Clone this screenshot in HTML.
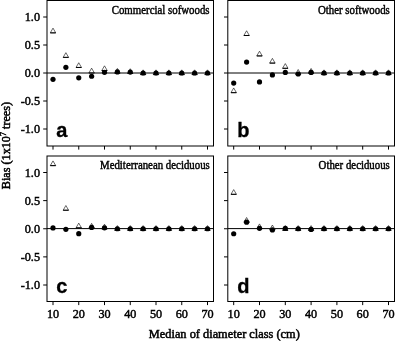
<!DOCTYPE html><html><head><meta charset="utf-8"><style>html,body{margin:0;padding:0;background:#fff;}svg{display:block;}.tl{font-family:"Liberation Serif",serif;font-size:12.2px;fill:#000;stroke:#000;stroke-width:0.45px;}.tt{font-family:"Liberation Serif",serif;font-size:12.2px;fill:#000;stroke:#000;stroke-width:0.45px;}.pl{font-family:"Liberation Sans",sans-serif;font-size:20px;font-weight:bold;fill:#000;stroke:#000;stroke-width:0.3px;}.ax{font-family:"Liberation Serif",serif;font-size:12.2px;fill:#000;stroke:#000;stroke-width:0.5px;}</style></head><body>
<svg width="395" height="341" viewBox="0 0 395 341">
<rect width="395" height="341" fill="#fff"/>
<line x1="47.0" y1="73.0" x2="213.5" y2="73.0" stroke="#000" stroke-width="1"/>
<rect x="47.0" y="0.5" width="166.50" height="145.50" fill="none" stroke="#000" stroke-width="1"/>
<line x1="43.20" y1="129.00" x2="47.0" y2="129.00" stroke="#000" stroke-width="1"/>
<text class="tl" x="40" y="133.10" text-anchor="end">-1.0</text>
<line x1="43.20" y1="101.00" x2="47.0" y2="101.00" stroke="#000" stroke-width="1"/>
<text class="tl" x="40" y="105.10" text-anchor="end">-0.5</text>
<line x1="43.20" y1="73.00" x2="47.0" y2="73.00" stroke="#000" stroke-width="1"/>
<text class="tl" x="40" y="77.10" text-anchor="end">0.0</text>
<line x1="43.20" y1="45.00" x2="47.0" y2="45.00" stroke="#000" stroke-width="1"/>
<text class="tl" x="40" y="49.10" text-anchor="end">0.5</text>
<line x1="43.20" y1="17.00" x2="47.0" y2="17.00" stroke="#000" stroke-width="1"/>
<text class="tl" x="40" y="21.10" text-anchor="end">1.0</text>
<line x1="53.00" y1="146.0" x2="53.00" y2="149.60" stroke="#000" stroke-width="1"/>
<line x1="78.75" y1="146.0" x2="78.75" y2="149.60" stroke="#000" stroke-width="1"/>
<line x1="104.50" y1="146.0" x2="104.50" y2="149.60" stroke="#000" stroke-width="1"/>
<line x1="130.25" y1="146.0" x2="130.25" y2="149.60" stroke="#000" stroke-width="1"/>
<line x1="156.00" y1="146.0" x2="156.00" y2="149.60" stroke="#000" stroke-width="1"/>
<line x1="181.75" y1="146.0" x2="181.75" y2="149.60" stroke="#000" stroke-width="1"/>
<line x1="207.50" y1="146.0" x2="207.50" y2="149.60" stroke="#000" stroke-width="1"/>
<polygon points="53.00,28.13 55.73,32.86 50.27,32.86" fill="#fff" stroke="#000" stroke-width="0.6"/>
<line x1="50.27" y1="32.86" x2="55.73" y2="32.86" stroke="#000" stroke-width="1.0"/>
<polygon points="65.88,52.66 68.60,57.38 63.15,57.38" fill="#fff" stroke="#000" stroke-width="0.6"/>
<line x1="63.15" y1="57.38" x2="68.60" y2="57.38" stroke="#000" stroke-width="1.0"/>
<polygon points="78.75,62.74 81.48,67.46 76.02,67.46" fill="#fff" stroke="#000" stroke-width="0.6"/>
<line x1="76.02" y1="67.46" x2="81.48" y2="67.46" stroke="#000" stroke-width="1.0"/>
<polygon points="91.62,68.17 94.35,72.89 88.90,72.89" fill="#fff" stroke="#000" stroke-width="0.6"/>
<line x1="88.90" y1="72.89" x2="94.35" y2="72.89" stroke="#000" stroke-width="1.0"/>
<polygon points="104.50,65.82 107.23,70.54 101.77,70.54" fill="#fff" stroke="#000" stroke-width="0.6"/>
<line x1="101.77" y1="70.54" x2="107.23" y2="70.54" stroke="#000" stroke-width="1.0"/>
<polygon points="117.38,68.45 120.10,73.17 114.65,73.17" fill="#fff" stroke="#000" stroke-width="0.6"/>
<line x1="114.65" y1="73.17" x2="120.10" y2="73.17" stroke="#000" stroke-width="1.0"/>
<polygon points="130.25,68.73 132.98,73.45 127.52,73.45" fill="#fff" stroke="#000" stroke-width="0.6"/>
<line x1="127.52" y1="73.45" x2="132.98" y2="73.45" stroke="#000" stroke-width="1.0"/>
<polygon points="143.12,69.85 145.85,74.58 140.40,74.58" fill="#fff" stroke="#000" stroke-width="0.6"/>
<line x1="140.40" y1="74.58" x2="145.85" y2="74.58" stroke="#000" stroke-width="1.0"/>
<polygon points="156.00,69.85 158.73,74.58 153.27,74.58" fill="#fff" stroke="#000" stroke-width="0.6"/>
<line x1="153.27" y1="74.58" x2="158.73" y2="74.58" stroke="#000" stroke-width="1.0"/>
<polygon points="168.88,69.85 171.60,74.58 166.15,74.58" fill="#fff" stroke="#000" stroke-width="0.6"/>
<line x1="166.15" y1="74.58" x2="171.60" y2="74.58" stroke="#000" stroke-width="1.0"/>
<polygon points="181.75,69.85 184.48,74.58 179.02,74.58" fill="#fff" stroke="#000" stroke-width="0.6"/>
<line x1="179.02" y1="74.58" x2="184.48" y2="74.58" stroke="#000" stroke-width="1.0"/>
<polygon points="194.62,69.85 197.35,74.58 191.90,74.58" fill="#fff" stroke="#000" stroke-width="0.6"/>
<line x1="191.90" y1="74.58" x2="197.35" y2="74.58" stroke="#000" stroke-width="1.0"/>
<polygon points="207.50,69.85 210.23,74.58 204.77,74.58" fill="#fff" stroke="#000" stroke-width="0.6"/>
<line x1="204.77" y1="74.58" x2="210.23" y2="74.58" stroke="#000" stroke-width="1.0"/>
<circle cx="53.00" cy="79.33" r="2.6" fill="#000"/>
<circle cx="65.88" cy="67.34" r="2.6" fill="#000"/>
<circle cx="78.75" cy="77.82" r="2.6" fill="#000"/>
<circle cx="91.62" cy="76.25" r="2.6" fill="#000"/>
<circle cx="104.50" cy="72.33" r="2.6" fill="#000"/>
<circle cx="117.38" cy="71.94" r="2.6" fill="#000"/>
<circle cx="130.25" cy="72.10" r="2.6" fill="#000"/>
<circle cx="143.12" cy="73.00" r="2.6" fill="#000"/>
<circle cx="156.00" cy="73.00" r="2.6" fill="#000"/>
<circle cx="168.88" cy="73.00" r="2.6" fill="#000"/>
<circle cx="181.75" cy="73.00" r="2.6" fill="#000"/>
<circle cx="194.62" cy="73.00" r="2.6" fill="#000"/>
<circle cx="207.50" cy="73.00" r="2.6" fill="#000"/>
<text class="tt" x="111.70" y="13.70" textLength="97.90" lengthAdjust="spacingAndGlyphs">Commercial sofwoods</text>
<text class="pl" x="56.30" y="136.70">a</text>
<line x1="227.8" y1="73.0" x2="394.5" y2="73.0" stroke="#000" stroke-width="1"/>
<rect x="227.8" y="0.5" width="166.70" height="145.50" fill="none" stroke="#000" stroke-width="1"/>
<line x1="224.00" y1="129.00" x2="227.8" y2="129.00" stroke="#000" stroke-width="1"/>
<line x1="224.00" y1="101.00" x2="227.8" y2="101.00" stroke="#000" stroke-width="1"/>
<line x1="224.00" y1="73.00" x2="227.8" y2="73.00" stroke="#000" stroke-width="1"/>
<line x1="224.00" y1="45.00" x2="227.8" y2="45.00" stroke="#000" stroke-width="1"/>
<line x1="224.00" y1="17.00" x2="227.8" y2="17.00" stroke="#000" stroke-width="1"/>
<line x1="233.70" y1="146.0" x2="233.70" y2="149.60" stroke="#000" stroke-width="1"/>
<line x1="259.50" y1="146.0" x2="259.50" y2="149.60" stroke="#000" stroke-width="1"/>
<line x1="285.30" y1="146.0" x2="285.30" y2="149.60" stroke="#000" stroke-width="1"/>
<line x1="311.10" y1="146.0" x2="311.10" y2="149.60" stroke="#000" stroke-width="1"/>
<line x1="336.90" y1="146.0" x2="336.90" y2="149.60" stroke="#000" stroke-width="1"/>
<line x1="362.70" y1="146.0" x2="362.70" y2="149.60" stroke="#000" stroke-width="1"/>
<line x1="388.50" y1="146.0" x2="388.50" y2="149.60" stroke="#000" stroke-width="1"/>
<polygon points="233.70,87.94 236.43,92.66 230.97,92.66" fill="#fff" stroke="#000" stroke-width="0.6"/>
<line x1="230.97" y1="92.66" x2="236.43" y2="92.66" stroke="#000" stroke-width="1.0"/>
<polygon points="246.60,30.76 249.33,35.49 243.87,35.49" fill="#fff" stroke="#000" stroke-width="0.6"/>
<line x1="243.87" y1="35.49" x2="249.33" y2="35.49" stroke="#000" stroke-width="1.0"/>
<polygon points="259.50,51.20 262.23,55.93 256.77,55.93" fill="#fff" stroke="#000" stroke-width="0.6"/>
<line x1="256.77" y1="55.93" x2="262.23" y2="55.93" stroke="#000" stroke-width="1.0"/>
<polygon points="272.40,58.37 275.13,63.10 269.67,63.10" fill="#fff" stroke="#000" stroke-width="0.6"/>
<line x1="269.67" y1="63.10" x2="275.13" y2="63.10" stroke="#000" stroke-width="1.0"/>
<polygon points="285.30,63.58 288.03,68.30 282.57,68.30" fill="#fff" stroke="#000" stroke-width="0.6"/>
<line x1="282.57" y1="68.30" x2="288.03" y2="68.30" stroke="#000" stroke-width="1.0"/>
<polygon points="298.20,69.51 300.93,74.24 295.47,74.24" fill="#fff" stroke="#000" stroke-width="0.6"/>
<line x1="295.47" y1="74.24" x2="300.93" y2="74.24" stroke="#000" stroke-width="1.0"/>
<polygon points="311.10,68.45 313.83,73.17 308.37,73.17" fill="#fff" stroke="#000" stroke-width="0.6"/>
<line x1="308.37" y1="73.17" x2="313.83" y2="73.17" stroke="#000" stroke-width="1.0"/>
<polygon points="324.00,69.85 326.73,74.58 321.27,74.58" fill="#fff" stroke="#000" stroke-width="0.6"/>
<line x1="321.27" y1="74.58" x2="326.73" y2="74.58" stroke="#000" stroke-width="1.0"/>
<polygon points="336.90,69.85 339.63,74.58 334.17,74.58" fill="#fff" stroke="#000" stroke-width="0.6"/>
<line x1="334.17" y1="74.58" x2="339.63" y2="74.58" stroke="#000" stroke-width="1.0"/>
<polygon points="349.80,69.85 352.53,74.58 347.07,74.58" fill="#fff" stroke="#000" stroke-width="0.6"/>
<line x1="347.07" y1="74.58" x2="352.53" y2="74.58" stroke="#000" stroke-width="1.0"/>
<polygon points="362.70,69.85 365.43,74.58 359.97,74.58" fill="#fff" stroke="#000" stroke-width="0.6"/>
<line x1="359.97" y1="74.58" x2="365.43" y2="74.58" stroke="#000" stroke-width="1.0"/>
<polygon points="375.60,69.85 378.33,74.58 372.87,74.58" fill="#fff" stroke="#000" stroke-width="0.6"/>
<line x1="372.87" y1="74.58" x2="378.33" y2="74.58" stroke="#000" stroke-width="1.0"/>
<polygon points="388.50,69.85 391.23,74.58 385.77,74.58" fill="#fff" stroke="#000" stroke-width="0.6"/>
<line x1="385.77" y1="74.58" x2="391.23" y2="74.58" stroke="#000" stroke-width="1.0"/>
<circle cx="233.70" cy="83.08" r="2.6" fill="#000"/>
<circle cx="246.60" cy="62.08" r="2.6" fill="#000"/>
<circle cx="259.50" cy="81.96" r="2.6" fill="#000"/>
<circle cx="272.40" cy="74.96" r="2.6" fill="#000"/>
<circle cx="285.30" cy="72.44" r="2.6" fill="#000"/>
<circle cx="298.20" cy="74.01" r="2.6" fill="#000"/>
<circle cx="311.10" cy="72.44" r="2.6" fill="#000"/>
<circle cx="324.00" cy="73.00" r="2.6" fill="#000"/>
<circle cx="336.90" cy="73.00" r="2.6" fill="#000"/>
<circle cx="349.80" cy="73.00" r="2.6" fill="#000"/>
<circle cx="362.70" cy="73.00" r="2.6" fill="#000"/>
<circle cx="375.60" cy="73.00" r="2.6" fill="#000"/>
<circle cx="388.50" cy="73.00" r="2.6" fill="#000"/>
<text class="tt" x="317.90" y="13.70" textLength="71.90" lengthAdjust="spacingAndGlyphs">Other softwoods</text>
<text class="pl" x="237.20" y="136.70">b</text>
<line x1="47.0" y1="228.6" x2="213.5" y2="228.6" stroke="#000" stroke-width="1"/>
<rect x="47.0" y="156.0" width="166.50" height="145.50" fill="none" stroke="#000" stroke-width="1"/>
<line x1="43.20" y1="285.00" x2="47.0" y2="285.00" stroke="#000" stroke-width="1"/>
<text class="tl" x="40" y="289.10" text-anchor="end">-1.0</text>
<line x1="43.20" y1="256.88" x2="47.0" y2="256.88" stroke="#000" stroke-width="1"/>
<text class="tl" x="40" y="260.98" text-anchor="end">-0.5</text>
<line x1="43.20" y1="228.75" x2="47.0" y2="228.75" stroke="#000" stroke-width="1"/>
<text class="tl" x="40" y="232.85" text-anchor="end">0.0</text>
<line x1="43.20" y1="200.62" x2="47.0" y2="200.62" stroke="#000" stroke-width="1"/>
<text class="tl" x="40" y="204.72" text-anchor="end">0.5</text>
<line x1="43.20" y1="172.50" x2="47.0" y2="172.50" stroke="#000" stroke-width="1"/>
<text class="tl" x="40" y="176.60" text-anchor="end">1.0</text>
<line x1="53.00" y1="301.5" x2="53.00" y2="305.10" stroke="#000" stroke-width="1"/>
<text class="tl" x="53.00" y="317.6" text-anchor="middle">10</text>
<line x1="78.75" y1="301.5" x2="78.75" y2="305.10" stroke="#000" stroke-width="1"/>
<text class="tl" x="78.75" y="317.6" text-anchor="middle">20</text>
<line x1="104.50" y1="301.5" x2="104.50" y2="305.10" stroke="#000" stroke-width="1"/>
<text class="tl" x="104.50" y="317.6" text-anchor="middle">30</text>
<line x1="130.25" y1="301.5" x2="130.25" y2="305.10" stroke="#000" stroke-width="1"/>
<text class="tl" x="130.25" y="317.6" text-anchor="middle">40</text>
<line x1="156.00" y1="301.5" x2="156.00" y2="305.10" stroke="#000" stroke-width="1"/>
<text class="tl" x="156.00" y="317.6" text-anchor="middle">50</text>
<line x1="181.75" y1="301.5" x2="181.75" y2="305.10" stroke="#000" stroke-width="1"/>
<text class="tl" x="181.75" y="317.6" text-anchor="middle">60</text>
<line x1="207.50" y1="301.5" x2="207.50" y2="305.10" stroke="#000" stroke-width="1"/>
<text class="tl" x="207.50" y="317.6" text-anchor="middle">70</text>
<polygon points="53.00,160.91 55.73,165.64 50.27,165.64" fill="#fff" stroke="#000" stroke-width="0.6"/>
<line x1="50.27" y1="165.64" x2="55.73" y2="165.64" stroke="#000" stroke-width="1.0"/>
<polygon points="65.88,205.52 68.60,210.24 63.15,210.24" fill="#fff" stroke="#000" stroke-width="0.6"/>
<line x1="63.15" y1="210.24" x2="68.60" y2="210.24" stroke="#000" stroke-width="1.0"/>
<polygon points="78.75,223.12 81.48,227.85 76.02,227.85" fill="#fff" stroke="#000" stroke-width="0.6"/>
<line x1="76.02" y1="227.85" x2="81.48" y2="227.85" stroke="#000" stroke-width="1.0"/>
<polygon points="91.62,223.35 94.35,228.07 88.90,228.07" fill="#fff" stroke="#000" stroke-width="0.6"/>
<line x1="88.90" y1="228.07" x2="94.35" y2="228.07" stroke="#000" stroke-width="1.0"/>
<polygon points="104.50,224.19 107.23,228.92 101.77,228.92" fill="#fff" stroke="#000" stroke-width="0.6"/>
<line x1="101.77" y1="228.92" x2="107.23" y2="228.92" stroke="#000" stroke-width="1.0"/>
<polygon points="117.38,225.60 120.10,230.32 114.65,230.32" fill="#fff" stroke="#000" stroke-width="0.6"/>
<line x1="114.65" y1="230.32" x2="120.10" y2="230.32" stroke="#000" stroke-width="1.0"/>
<polygon points="130.25,225.60 132.98,230.32 127.52,230.32" fill="#fff" stroke="#000" stroke-width="0.6"/>
<line x1="127.52" y1="230.32" x2="132.98" y2="230.32" stroke="#000" stroke-width="1.0"/>
<polygon points="143.12,225.60 145.85,230.32 140.40,230.32" fill="#fff" stroke="#000" stroke-width="0.6"/>
<line x1="140.40" y1="230.32" x2="145.85" y2="230.32" stroke="#000" stroke-width="1.0"/>
<polygon points="156.00,225.60 158.73,230.32 153.27,230.32" fill="#fff" stroke="#000" stroke-width="0.6"/>
<line x1="153.27" y1="230.32" x2="158.73" y2="230.32" stroke="#000" stroke-width="1.0"/>
<polygon points="168.88,225.60 171.60,230.32 166.15,230.32" fill="#fff" stroke="#000" stroke-width="0.6"/>
<line x1="166.15" y1="230.32" x2="171.60" y2="230.32" stroke="#000" stroke-width="1.0"/>
<polygon points="181.75,225.60 184.48,230.32 179.02,230.32" fill="#fff" stroke="#000" stroke-width="0.6"/>
<line x1="179.02" y1="230.32" x2="184.48" y2="230.32" stroke="#000" stroke-width="1.0"/>
<polygon points="194.62,225.60 197.35,230.32 191.90,230.32" fill="#fff" stroke="#000" stroke-width="0.6"/>
<line x1="191.90" y1="230.32" x2="197.35" y2="230.32" stroke="#000" stroke-width="1.0"/>
<polygon points="207.50,225.60 210.23,230.32 204.77,230.32" fill="#fff" stroke="#000" stroke-width="0.6"/>
<line x1="204.77" y1="230.32" x2="210.23" y2="230.32" stroke="#000" stroke-width="1.0"/>
<circle cx="53.00" cy="227.96" r="2.6" fill="#000"/>
<circle cx="65.88" cy="229.31" r="2.6" fill="#000"/>
<circle cx="78.75" cy="233.64" r="2.6" fill="#000"/>
<circle cx="91.62" cy="227.46" r="2.6" fill="#000"/>
<circle cx="104.50" cy="227.85" r="2.6" fill="#000"/>
<circle cx="117.38" cy="228.75" r="2.6" fill="#000"/>
<circle cx="130.25" cy="228.75" r="2.6" fill="#000"/>
<circle cx="143.12" cy="228.75" r="2.6" fill="#000"/>
<circle cx="156.00" cy="228.75" r="2.6" fill="#000"/>
<circle cx="168.88" cy="228.75" r="2.6" fill="#000"/>
<circle cx="181.75" cy="228.75" r="2.6" fill="#000"/>
<circle cx="194.62" cy="228.75" r="2.6" fill="#000"/>
<circle cx="207.50" cy="228.75" r="2.6" fill="#000"/>
<text class="tt" x="100.00" y="169.10" textLength="109.80" lengthAdjust="spacingAndGlyphs">Mediterranean deciduous</text>
<text class="pl" x="56.30" y="293.00">c</text>
<line x1="227.8" y1="228.6" x2="394.5" y2="228.6" stroke="#000" stroke-width="1"/>
<rect x="227.8" y="156.0" width="166.70" height="145.50" fill="none" stroke="#000" stroke-width="1"/>
<line x1="224.00" y1="285.00" x2="227.8" y2="285.00" stroke="#000" stroke-width="1"/>
<line x1="224.00" y1="256.88" x2="227.8" y2="256.88" stroke="#000" stroke-width="1"/>
<line x1="224.00" y1="228.75" x2="227.8" y2="228.75" stroke="#000" stroke-width="1"/>
<line x1="224.00" y1="200.62" x2="227.8" y2="200.62" stroke="#000" stroke-width="1"/>
<line x1="224.00" y1="172.50" x2="227.8" y2="172.50" stroke="#000" stroke-width="1"/>
<line x1="233.70" y1="301.5" x2="233.70" y2="305.10" stroke="#000" stroke-width="1"/>
<text class="tl" x="233.70" y="317.6" text-anchor="middle">10</text>
<line x1="259.50" y1="301.5" x2="259.50" y2="305.10" stroke="#000" stroke-width="1"/>
<text class="tl" x="259.50" y="317.6" text-anchor="middle">20</text>
<line x1="285.30" y1="301.5" x2="285.30" y2="305.10" stroke="#000" stroke-width="1"/>
<text class="tl" x="285.30" y="317.6" text-anchor="middle">30</text>
<line x1="311.10" y1="301.5" x2="311.10" y2="305.10" stroke="#000" stroke-width="1"/>
<text class="tl" x="311.10" y="317.6" text-anchor="middle">40</text>
<line x1="336.90" y1="301.5" x2="336.90" y2="305.10" stroke="#000" stroke-width="1"/>
<text class="tl" x="336.90" y="317.6" text-anchor="middle">50</text>
<line x1="362.70" y1="301.5" x2="362.70" y2="305.10" stroke="#000" stroke-width="1"/>
<text class="tl" x="362.70" y="317.6" text-anchor="middle">60</text>
<line x1="388.50" y1="301.5" x2="388.50" y2="305.10" stroke="#000" stroke-width="1"/>
<text class="tl" x="388.50" y="317.6" text-anchor="middle">70</text>
<polygon points="233.70,189.60 236.43,194.32 230.97,194.32" fill="#fff" stroke="#000" stroke-width="0.6"/>
<line x1="230.97" y1="194.32" x2="236.43" y2="194.32" stroke="#000" stroke-width="1.0"/>
<polygon points="246.60,217.50 249.33,222.22 243.87,222.22" fill="#fff" stroke="#000" stroke-width="0.6"/>
<line x1="243.87" y1="222.22" x2="249.33" y2="222.22" stroke="#000" stroke-width="1.0"/>
<polygon points="259.50,223.91 262.23,228.64 256.77,228.64" fill="#fff" stroke="#000" stroke-width="0.6"/>
<line x1="256.77" y1="228.64" x2="262.23" y2="228.64" stroke="#000" stroke-width="1.0"/>
<polygon points="272.40,225.04 275.13,229.76 269.67,229.76" fill="#fff" stroke="#000" stroke-width="0.6"/>
<line x1="269.67" y1="229.76" x2="275.13" y2="229.76" stroke="#000" stroke-width="1.0"/>
<polygon points="285.30,225.60 288.03,230.32 282.57,230.32" fill="#fff" stroke="#000" stroke-width="0.6"/>
<line x1="282.57" y1="230.32" x2="288.03" y2="230.32" stroke="#000" stroke-width="1.0"/>
<polygon points="298.20,225.60 300.93,230.32 295.47,230.32" fill="#fff" stroke="#000" stroke-width="0.6"/>
<line x1="295.47" y1="230.32" x2="300.93" y2="230.32" stroke="#000" stroke-width="1.0"/>
<polygon points="311.10,225.60 313.83,230.32 308.37,230.32" fill="#fff" stroke="#000" stroke-width="0.6"/>
<line x1="308.37" y1="230.32" x2="313.83" y2="230.32" stroke="#000" stroke-width="1.0"/>
<polygon points="324.00,225.60 326.73,230.32 321.27,230.32" fill="#fff" stroke="#000" stroke-width="0.6"/>
<line x1="321.27" y1="230.32" x2="326.73" y2="230.32" stroke="#000" stroke-width="1.0"/>
<polygon points="336.90,225.60 339.63,230.32 334.17,230.32" fill="#fff" stroke="#000" stroke-width="0.6"/>
<line x1="334.17" y1="230.32" x2="339.63" y2="230.32" stroke="#000" stroke-width="1.0"/>
<polygon points="349.80,225.60 352.53,230.32 347.07,230.32" fill="#fff" stroke="#000" stroke-width="0.6"/>
<line x1="347.07" y1="230.32" x2="352.53" y2="230.32" stroke="#000" stroke-width="1.0"/>
<polygon points="362.70,225.60 365.43,230.32 359.97,230.32" fill="#fff" stroke="#000" stroke-width="0.6"/>
<line x1="359.97" y1="230.32" x2="365.43" y2="230.32" stroke="#000" stroke-width="1.0"/>
<polygon points="375.60,225.60 378.33,230.32 372.87,230.32" fill="#fff" stroke="#000" stroke-width="0.6"/>
<line x1="372.87" y1="230.32" x2="378.33" y2="230.32" stroke="#000" stroke-width="1.0"/>
<polygon points="388.50,225.60 391.23,230.32 385.77,230.32" fill="#fff" stroke="#000" stroke-width="0.6"/>
<line x1="385.77" y1="230.32" x2="391.23" y2="230.32" stroke="#000" stroke-width="1.0"/>
<circle cx="233.70" cy="233.76" r="2.6" fill="#000"/>
<circle cx="246.60" cy="222.17" r="2.6" fill="#000"/>
<circle cx="259.50" cy="228.36" r="2.6" fill="#000"/>
<circle cx="272.40" cy="229.88" r="2.6" fill="#000"/>
<circle cx="285.30" cy="228.36" r="2.6" fill="#000"/>
<circle cx="298.20" cy="228.75" r="2.6" fill="#000"/>
<circle cx="311.10" cy="229.43" r="2.6" fill="#000"/>
<circle cx="324.00" cy="228.75" r="2.6" fill="#000"/>
<circle cx="336.90" cy="228.75" r="2.6" fill="#000"/>
<circle cx="349.80" cy="228.75" r="2.6" fill="#000"/>
<circle cx="362.70" cy="228.75" r="2.6" fill="#000"/>
<circle cx="375.60" cy="228.75" r="2.6" fill="#000"/>
<circle cx="388.50" cy="228.75" r="2.6" fill="#000"/>
<text class="tt" x="318.60" y="169.10" textLength="71.20" lengthAdjust="spacingAndGlyphs">Other deciduous</text>
<text class="pl" x="237.20" y="293.00">d</text>
<text class="ax" x="148.8" y="338" textLength="151" lengthAdjust="spacingAndGlyphs">Median of diameter class (cm)</text>
<text class="ax" transform="translate(10.2,145.6) rotate(-90)" text-anchor="middle">Bias (1x10<tspan dy="-4.5" font-size="8px">7</tspan><tspan dy="4.5"> trees)</tspan></text>
</svg></body></html>
